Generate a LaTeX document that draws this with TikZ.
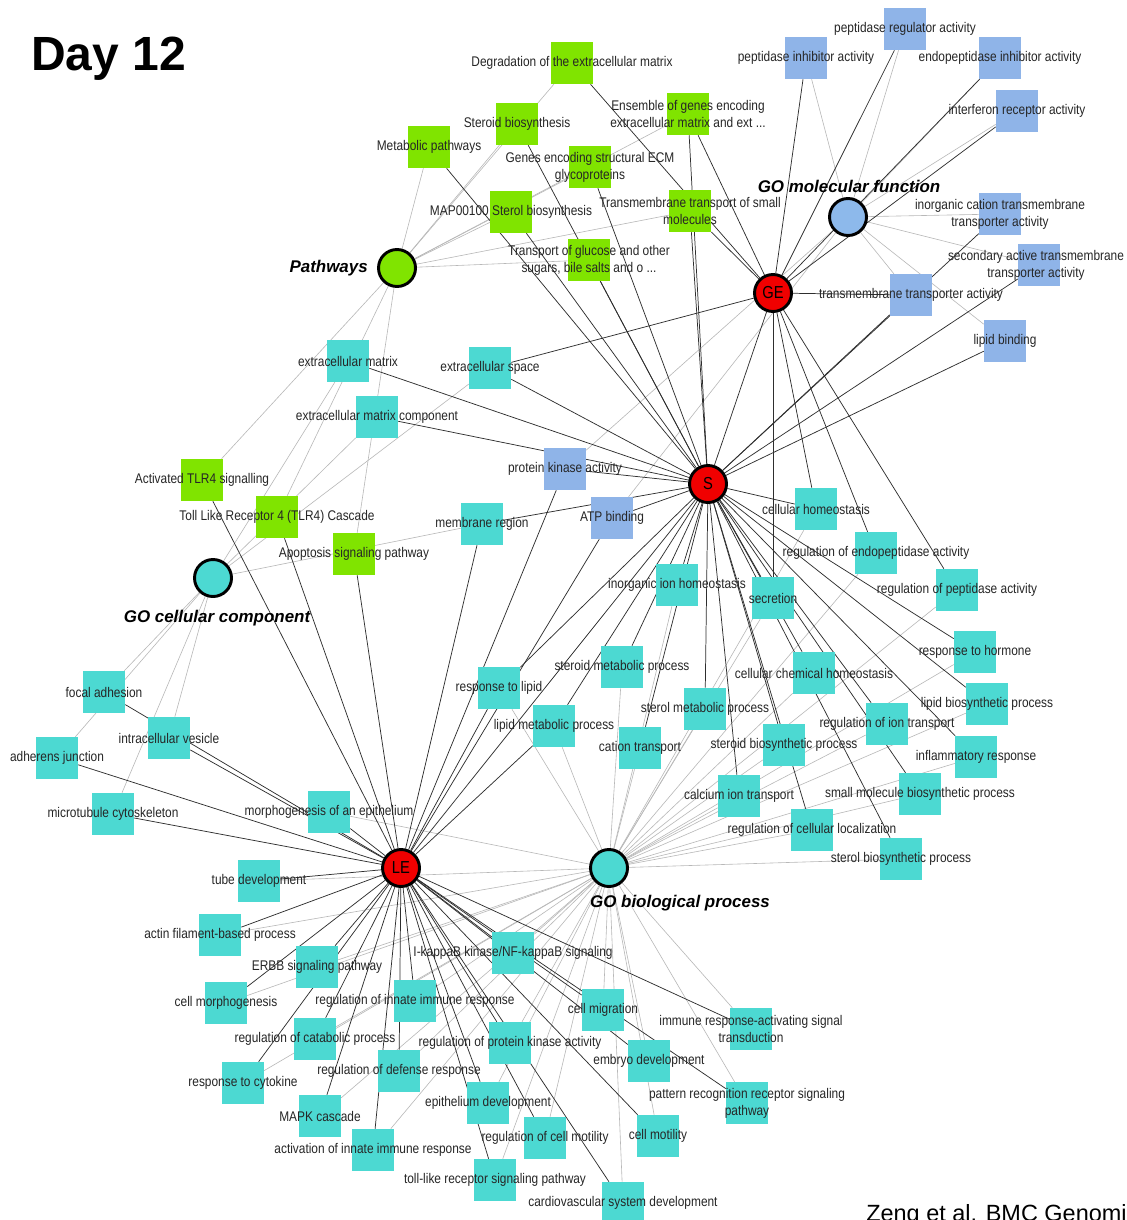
\documentclass[tikz,border=0pt]{standalone}
\usepackage{fontspec}
\setmainfont{Liberation Sans}
\newfontfamily\labfont[FakeStretch=0.85]{Liberation Sans}
\definecolor{cGreen}{RGB}{128,228,0}
\definecolor{cBlue}{RGB}{143,180,232}
\definecolor{cCyan}{RGB}{76,217,210}
\definecolor{cRed}{RGB}{240,0,0}
\definecolor{cMF}{RGB}{141,185,235}
\pgfdeclarelayer{bglayer}
\pgfdeclarelayer{edgelayer}
\pgfdeclarelayer{labels}
\pgfsetlayers{bglayer,edgelayer,main,labels}
\tikzset{
  sqnode/.style={rectangle, minimum size=31.5pt, inner sep=0pt, draw=none},
  gsq/.style={sqnode, fill=cGreen},
  bsq/.style={sqnode, fill=cBlue},
  csq/.style={sqnode, fill=cCyan},
  lab/.style={font=\labfont\fontsize{10.5}{12.6}\selectfont, text=black!85, align=center, inner sep=0pt},
  hub/.style={circle, fill=cRed, draw=black, line width=2.2pt, minimum size=27.75pt, inner sep=0pt, font=\labfont\fontsize{13}{13}\selectfont},
  cat/.style={circle, draw=black, line width=2.2pt, minimum size=27.75pt, inner sep=0pt},
  catlab/.style={font=\bfseries\itshape\fontsize{12.7}{14}\selectfont, inner sep=0pt},
  hedge/.style={draw=black!82, line width=0.55pt},
  cedge/.style={draw=black!28, line width=0.45pt}
}
\newcommand{\term}[5]{\node[#2] (#1) at (#3,#4) {};
  \begin{pgfonlayer}{labels}\node[lab] at (#1) {#5};\end{pgfonlayer}}
\begin{document}
\begin{tikzpicture}[x=0.75pt,y=-0.75pt]
\useasboundingbox (0,0) rectangle (1127,1220);
\begin{pgfonlayer}{bglayer}
\fill[white] (0,0) rectangle (1127,1220);
\end{pgfonlayer}

% title
\node[font=\bfseries\fontsize{36}{40}\selectfont, anchor=base west, inner sep=0pt] (title) at (31,71) {Day 12};
\begin{scope}
\clip (0,0) rectangle (1127,1220);
\node[font=\fontsize{17.6}{20}\selectfont, anchor=base west, inner sep=0pt] (cite) at (866,1221) {Zeng et al. BMC Genomics};
\end{scope}

% hubs and categories
\node[hub] (GE) at (773,293) {GE};
\node[hub] (S) at (708,484) {S};
\node[hub] (LE) at (401,868) {LE};
\node[cat, fill=cGreen] (pw) at (397,268) {};
\node[cat, fill=cMF] (mf) at (848,217) {};
\node[cat, fill=cCyan] (cc) at (213,578) {};
\node[cat, fill=cCyan] (bp) at (609,868) {};
\node[catlab, anchor=east] (pwl) at (368,268) {Pathways};
\node[catlab] (mfl) at (849,186) {GO molecular function};
\node[catlab] (ccl) at (217,618) {GO cellular component};
\node[catlab] (bpl) at (680,903) {GO biological process};

% pathways (green)
\term{deg}{gsq}{572}{63}{Degradation of the extracellular matrix}
\term{stb}{gsq}{517}{124}{Steroid biosynthesis}
\term{met}{gsq}{429}{147}{Metabolic pathways}
\term{ens}{gsq}{688}{114}{Ensemble of genes encoding\\extracellular matrix and ext ...}
\term{gecm}{gsq}{590}{167}{Genes encoding structural ECM\\glycoproteins}
\term{map}{gsq}{511}{212}{MAP00100 Sterol biosynthesis}
\term{tts}{gsq}{690}{211}{Transmembrane transport of small\\molecules}
\term{tgl}{gsq}{589}{260}{Transport of glucose and other\\sugars, bile salts and o ...}
\term{atlr}{gsq}{202}{480}{Activated TLR4 signalling}
\term{tlrc}{gsq}{277}{517}{Toll Like Receptor 4 (TLR4) Cascade}
\term{apo}{gsq}{354}{554}{Apoptosis signaling pathway}

% molecular function (blue)
\term{pra}{bsq}{905}{29}{peptidase regulator activity}
\term{pia}{bsq}{806}{58}{peptidase inhibitor activity}
\term{epia}{bsq}{1000}{58}{endopeptidase inhibitor activity}
\term{ira}{bsq}{1017}{111}{interferon receptor activity}
\term{icta}{bsq}{1000}{214}{inorganic cation transmembrane\\transporter activity}
\term{sata}{bsq}{1039}{265}{}
\begin{pgfonlayer}{labels}\node[lab] (satal) at (1036,265) {secondary active transmembrane\\transporter activity};\end{pgfonlayer}
\term{tta}{bsq}{911}{295}{transmembrane transporter activity}
\term{lb}{bsq}{1005}{341}{lipid binding}
\term{pka}{bsq}{565}{469}{protein kinase activity}
\term{atp}{bsq}{612}{518}{ATP binding}

% cellular component (cyan)
\term{ecm}{csq}{348}{361}{extracellular matrix}
\term{ecmc}{csq}{377}{417}{extracellular matrix component}
\term{ecs}{csq}{490}{368}{extracellular space}
\term{mr}{csq}{482}{524}{membrane region}
\term{fa}{csq}{104}{692}{focal adhesion}
\term{iv}{csq}{169}{738}{intracellular vesicle}
\term{aj}{csq}{57}{758}{adherens junction}
\term{mc}{csq}{113}{814}{microtubule cytoskeleton}

% biological process (cyan)
\term{ch}{csq}{816}{509}{cellular homeostasis}
\term{rea}{csq}{876}{553}{regulation of endopeptidase activity}
\term{rpa}{csq}{957}{590}{regulation of peptidase activity}
\term{sec}{csq}{773}{598}{secretion}
\term{iih}{csq}{677}{585}{inorganic ion homeostasis}
\term{rth}{csq}{975}{652}{response to hormone}
\term{cch}{csq}{814}{673}{cellular chemical homeostasis}
\term{lbp}{csq}{987}{704}{lipid biosynthetic process}
\term{rit}{csq}{887}{724}{regulation of ion transport}
\term{ir}{csq}{976}{757}{inflammatory response}
\term{sbp}{csq}{784}{745}{steroid biosynthetic process}
\term{smbp}{csq}{920}{794}{small molecule biosynthetic process}
\term{rcl}{csq}{812}{830}{regulation of cellular localization}
\term{stbp}{csq}{901}{859}{sterol biosynthetic process}
\term{cit}{csq}{739}{796}{calcium ion transport}
\term{smp}{csq}{705}{709}{sterol metabolic process}
\term{ct}{csq}{640}{748}{cation transport}
\term{stmp}{csq}{622}{667}{steroid metabolic process}
\term{rtl}{csq}{499}{688}{response to lipid}
\term{lmp}{csq}{554}{726}{lipid metabolic process}
\term{moe}{csq}{329}{812}{morphogenesis of an epithelium}
\term{td}{csq}{259}{881}{tube development}
\term{afp}{csq}{220}{935}{actin filament-based process}
\term{erbb}{csq}{317}{967}{ERBB signaling pathway}
\term{cm}{csq}{226}{1003}{cell morphogenesis}
\term{rii}{csq}{415}{1001}{regulation of innate immune response}
\term{rcp}{csq}{315}{1039}{regulation of catabolic process}
\term{ikb}{csq}{513}{953}{I-kappaB kinase/NF-kappaB signaling}
\term{rtc}{csq}{243}{1083}{response to cytokine}
\term{rdr}{csq}{399}{1071}{regulation of defense response}
\term{rpk}{csq}{510}{1043}{regulation of protein kinase activity}
\term{cmig}{csq}{603}{1010}{cell migration}
\term{iras}{csq}{751}{1029}{immune response-activating signal\\transduction}
\term{ed}{csq}{649}{1061}{embryo development}
\term{mapk}{csq}{320}{1116}{MAPK cascade}
\term{epd}{csq}{488}{1103}{epithelium development}
\term{prr}{csq}{747}{1103}{pattern recognition receptor signaling\\pathway}
\term{aii}{csq}{373}{1150}{activation of innate immune response}
\term{rcmo}{csq}{545}{1138}{regulation of cell motility}
\term{cmo}{csq}{658}{1136}{cell motility}
\term{tlr}{csq}{495}{1180}{toll-like receptor signaling pathway}
\term{cvs}{csq}{623}{1203}{cardiovascular system development}

% edges
\begin{pgfonlayer}{edgelayer}
\foreach \t in {deg,stb,met,ens,gecm,map,tts,tgl,atlr,tlrc,apo}
  \draw[cedge] (pw) -- (\t);
\foreach \t in {pra,pia,epia,ira,icta,sata,tta,lb,pka,atp}
  \draw[cedge] (mf) -- (\t);
\foreach \t in {ecm,ecmc,ecs,mr,fa,iv,aj,mc}
  \draw[cedge] (cc) -- (\t);
\foreach \t in {ch,rea,rpa,sec,iih,rth,cch,lbp,rit,ir,sbp,smbp,rcl,stbp,cit,smp,ct,stmp,rtl,lmp,moe,td,afp,erbb,cm,rii,rcp,ikb,rtc,rdr,rpk,cmig,iras,ed,mapk,epd,prr,aii,rcmo,cmo,tlr,cvs}
  \draw[cedge] (bp) -- (\t);
\foreach \t in {pia,pra,epia,ira,tta,tts,deg,ecs,S,sec,ch,rea,rpa,ens}
  \draw[hedge] (GE) -- (\t);
\foreach \t in {met,map,stb,gecm,tgl,ens,tts,tta,icta,sata,lb,ecm,ecmc,ecs,pka,atp,mr,LE,iih,sec,ch,rth,lbp,ir,rit,sbp,smp,ct,stmp,cit,rtl,lmp,cch,smbp,stbp,rcl}
  \draw[hedge] (S) -- (\t);
\foreach \t in {pka,atp,mr,rtl,lmp,atlr,tlrc,apo,fa,iv,aj,mc,moe,td,afp,erbb,cm,rii,rcp,ikb,rtc,rdr,rpk,cmig,iras,ed,mapk,epd,prr,aii,rcmo,cmo,tlr,cvs}
  \draw[hedge] (LE) -- (\t);
\end{pgfonlayer}
\end{tikzpicture}
\end{document}
